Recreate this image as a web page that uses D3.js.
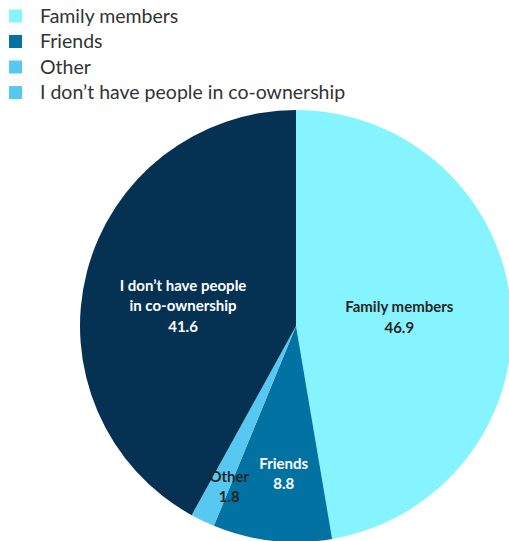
<!DOCTYPE html>
<html>
<head>
<meta charset="utf-8">
<script src="https://cdnjs.cloudflare.com/ajax/libs/d3/7.8.5/d3.min.js"></script>
<style>
  html, body { margin: 0; padding: 0; background: #fff; overflow: hidden; }
  svg { display: block; font-family: Lato, "Open Sans", sans-serif; }
</style>
</head>
<body>
<svg id="chart" width="509" height="541"></svg>
<script>
// Co-ownership shares (%)
const categories = ["Family members", "Friends", "Other", "I don\u2019t have people in co-ownership"];
const values = [46.9, 8.8, 1.8, 41.6];
const sliceLabels = [["Family members"], ["Friends"], ["Other"], ["I don\u2019t have people", "in co-ownership"]];

const sliceColors = ["#86F4FF", "#0272A2", "#56C8F2", "#053253"];
const legendColors = ["#86F4FF", "#0272A2", "#56C8F2", "#56C8F2"];
const labelColors = ["#262626", "#ffffff", "#262626", "#ffffff"];
// radial placement of each slice label (fraction of the radius) plus a small nudge
const labelRadiusFrac = [0.48, 0.68, 0.80, 0.54];
const labelNudge = [[0, 0], [4, 2], [8, 5], [0, 9]];

const svg = d3.select("#chart");
const cx = 296, cy = 326, R = 216;

const data = categories.map((c, i) => ({ name: c, value: values[i], i }));
const pie = d3.pie().value(d => d.value).sort(null);
const arcs = pie(data);
const arc = d3.arc().innerRadius(0).outerRadius(R);

const g = svg.append("g").attr("transform", `translate(${cx},${cy})`);
g.selectAll("path").data(arcs).join("path")
  .attr("d", arc)
  .attr("fill", d => sliceColors[d.data.i]);

arcs.forEach(a => {
  const i = a.data.i;
  const lr = R * labelRadiusFrac[i];
  const la = d3.arc().innerRadius(lr).outerRadius(lr);
  const c = la.centroid(a);
  const x = c[0] + labelNudge[i][0], y = c[1] + labelNudge[i][1];
  const lines = sliceLabels[i].concat([values[i].toFixed(1)]);
  const lh = 20.5;
  const t = g.append("text")
    .attr("text-anchor", "middle")
    .attr("font-size", 15)
    .attr("font-weight", 700)
    .attr("fill", labelColors[i]);
  lines.forEach((ln, k) => {
    t.append("tspan")
      .attr("x", x)
      .attr("y", y + (k - (lines.length - 1) / 2) * lh)
      .attr("dy", "0.35em")
      .text(ln);
  });
});

// Legend
const legend = svg.append("g");
categories.forEach((c, i) => {
  const y = 16 + i * 25.5;
  legend.append("rect")
    .attr("x", 9).attr("y", y - 6.5)
    .attr("width", 13).attr("height", 13)
    .attr("fill", legendColors[i]);
  legend.append("text")
    .attr("x", 40).attr("y", y)
    .attr("dy", "0.35em")
    .attr("font-size", 19.5)
    .attr("fill", "#333")
    .text(c);
});
</script>
</body>
</html>
